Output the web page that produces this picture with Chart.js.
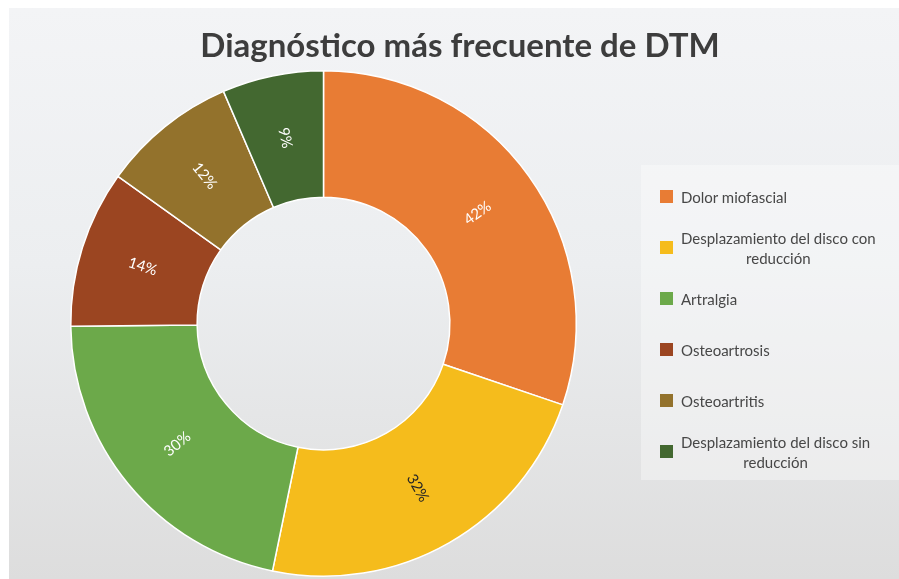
<!DOCTYPE html>
<html lang="es">
<head>
<meta charset="utf-8">
<title>Diagnóstico más frecuente de DTM</title>
<script src="https://cdn.jsdelivr.net/npm/chart.js@4/dist/chart.umd.min.js"></script>
<style>
  html, body { margin: 0; padding: 0; background: #ffffff; }
  body { width: 899px; height: 579px; position: relative; overflow: hidden; }
  .panel {
    position: absolute; left: 9px; top: 8px; width: 890px; height: 571px;
    background: linear-gradient(to bottom, #f3f4f6 0%, #eceef0 45%, #dddddd 100%);
  }
  #chart { position: absolute; left: 0; top: 0; }
  .title {
    position: absolute; left: 0; top: 17px; width: 902px; text-align: center;
    font-family: Lato, "Open Sans", sans-serif; font-size: 33px; font-weight: bold;
    line-height: 1.2; color: #3d3d3d; white-space: nowrap;
  }
  .legend {
    position: absolute; left: 632px; top: 157px; width: 258px; height: 315px;
    background: rgba(255, 255, 255, 0.35);
    padding-top: 6px; box-sizing: border-box;
    font-family: Lato, "Open Sans", sans-serif; font-size: 15px; color: #474747;
  }
  .legend-item { height: 51px; display: flex; align-items: center; padding-left: 19px; }
  .legend-box { width: 13px; height: 13px; flex: none; margin-right: 8px; }
  .legend-text { text-align: center; white-space: nowrap; line-height: 20px; }
</style>
</head>
<body>
<div class="panel">
  <canvas id="chart" width="890" height="571"></canvas>
  <div class="title" id="title"></div>
  <div class="legend" id="legend"></div>
</div>
<script>
// --- Data ---
const TITLE = 'Diagnóstico más frecuente de DTM';
const LABELS = [
  'Dolor miofascial',
  ['Desplazamiento del disco con', 'reducción'],
  'Artralgia',
  'Osteoartrosis',
  'Osteoartritis',
  ['Desplazamiento del disco sin', 'reducción'],
];
const VALUES = [42, 32, 30, 14, 12, 9];
const COLORS = ['#e87c34', '#f5bc1c', '#6ca94a', '#9b4521', '#93722c', '#436830'];
const LABEL_COLORS = ['#ffffff', '#262626', '#ffffff', '#ffffff', '#ffffff', '#ffffff'];

// --- Slice labels, turned along the radius like the original ---
const sliceLabels = {
  id: 'sliceLabels',
  afterDatasetsDraw(chart) {
    const ctx = chart.ctx;
    const meta = chart.getDatasetMeta(0);
    meta.data.forEach((arc, i) => {
      const p = arc.getProps(['x', 'y', 'startAngle', 'endAngle', 'innerRadius', 'outerRadius'], true);
      const mid = (p.startAngle + p.endAngle) / 2;
      const r = (p.innerRadius + p.outerRadius) / 2;
      let rot = mid;
      if (Math.cos(rot) < 0) rot += Math.PI;
      ctx.save();
      ctx.translate(p.x + Math.cos(mid) * r, p.y + Math.sin(mid) * r);
      ctx.rotate(rot);
      ctx.font = '15px Lato, "Open Sans", sans-serif';
      ctx.fillStyle = LABEL_COLORS[i];
      ctx.textAlign = 'center';
      ctx.textBaseline = 'middle';
      ctx.fillText(VALUES[i] + '%', 0, 0);
      ctx.restore();
    });
  },
};

// --- Chart ---
const chart = new Chart(document.getElementById('chart').getContext('2d'), {
  type: 'doughnut',
  data: {
    labels: LABELS,
    datasets: [{
      data: VALUES,
      backgroundColor: COLORS,
      borderColor: '#ffffff',
      borderWidth: 1.5,
    }],
  },
  options: {
    responsive: false,
    animation: false,
    cutout: '50%',
    layout: { padding: { left: 61, right: 322, top: 62, bottom: 2 } },
    plugins: {
      legend: { display: false },
      tooltip: { enabled: false },
      title: { display: false },
    },
  },
  plugins: [sliceLabels],
});

// --- Title and legend (HTML, built from the same arrays) ---
document.getElementById('title').textContent = TITLE;

document.getElementById('legend').innerHTML = LABELS
  .map((label, i) => `
    <div class="legend-item">
      <span class="legend-box" style="background:${COLORS[i]}"></span>
      <span class="legend-text">${[].concat(label).join('<br>')}</span>
    </div>
  `)
  .join('');
</script>
</body>
</html>
